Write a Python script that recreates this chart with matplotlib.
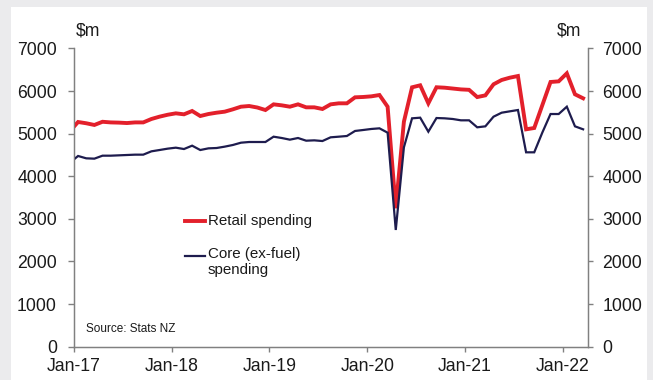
import matplotlib
matplotlib.use("Agg")
import matplotlib.pyplot as plt
from matplotlib.patches import Rectangle
import numpy as np

plt.rcParams['font.family'] = ['Liberation Sans', 'DejaVu Sans']

# Monthly values, Dec-16 .. Mar-22 ($m)
months_since_jan17 = list(range(-1, 63))
retail = [5060, 5275, 5245, 5205, 5280, 5265, 5260, 5250, 5265, 5265,
          5345, 5400, 5445, 5478, 5455, 5533, 5415, 5462, 5493, 5517,
          5572, 5634, 5650, 5615, 5556, 5689, 5666, 5634, 5689, 5619,
          5619, 5580, 5689, 5713, 5713, 5854, 5862, 5877, 5908, 5634,
          3250, 5282, 6089, 6136, 5713, 6090, 6080, 6060, 6040, 6030,
          5860, 5900, 6159, 6261, 6315, 6354, 5103, 5134, 5674, 6214,
          6229, 6417, 5925, 5831]
core = [4320, 4477, 4422, 4414, 4484, 4484, 4492, 4500, 4508, 4508,
        4586, 4617, 4649, 4672, 4640, 4719, 4617, 4656, 4664, 4696,
        4735, 4789, 4805, 4805, 4805, 4930, 4899, 4860, 4899, 4836,
        4844, 4828, 4915, 4930, 4946, 5064, 5087, 5111, 5126, 5024,
        2740, 4680, 5361, 5376, 5047, 5368, 5361, 5345, 5314, 5314,
        5150, 5173, 5399, 5493, 5525, 5556, 4563, 4563, 5030, 5462,
        5462, 5634, 5173, 5103]
tick_labels = ["Jan-17", "Jan-18", "Jan-19", "Jan-20", "Jan-21", "Jan-22"]
y_ticks = [0, 1000, 2000, 3000, 4000, 5000, 6000, 7000]
series_names = ["Retail spending", "Core (ex-fuel)\nspending"]

RED = '#e3202b'
NAVY = '#1e1c4e'
AXC = '#808080'
TXT = '#1a1a1a'

W, H = 653, 380
fig = plt.figure(figsize=(W / 100, H / 100), dpi=100)
fig.patch.set_facecolor('#ebebed')
fig.add_artist(Rectangle((11 / W, 0), 636 / W, 373 / H, transform=fig.transFigure,
                         facecolor='white', edgecolor='none', zorder=0))

L, R, B, T = 74, 588, 346.7, 48.5
ax = fig.add_axes([L / W, 1 - B / H, (R - L) / W, (B - T) / H])
ax.set_facecolor('none')

x = np.array(months_since_jan17) + 0.5  # mid-month positions
ax.plot(x, retail, color=RED, lw=2.8, solid_joinstyle='miter', zorder=3)
ax.plot(x, core, color=NAVY, lw=1.6, solid_joinstyle='miter', zorder=4)

ax.set_xlim(0, 63.1)
ax.set_ylim(0, 7000)
ax.set_xticks([12 * i for i in range(len(tick_labels))])
ax.set_xticklabels(tick_labels)
ax.set_yticks(y_ticks)
ax.set_yticklabels([str(v) for v in y_ticks])

ax.spines['top'].set_visible(False)
for s in ['left', 'right', 'bottom']:
    ax.spines[s].set_color(AXC)
    ax.spines[s].set_linewidth(1.0)

ax.tick_params(axis='y', direction='out', length=4.3, width=1, color=AXC,
               labelsize=12.7, labelcolor=TXT, pad=8)
ax.tick_params(axis='x', direction='out', length=3.5, width=1, color=AXC,
               labelsize=12.7, labelcolor=TXT, pad=4.5)

ax2 = ax.twinx()
ax2.set_ylim(0, 7000)
ax2.set_yticks(y_ticks)
ax2.set_yticklabels([str(v) for v in y_ticks])
ax2.spines['top'].set_visible(False)
for s in ['left', 'right', 'bottom']:
    ax2.spines[s].set_color(AXC)
ax2.tick_params(axis='y', direction='out', length=3.5, width=1, color=AXC,
                labelsize=12.7, labelcolor=TXT, pad=7)

fig.text(88 / W, 1 - 31 / H, '$m', ha='center', va='center', fontsize=12.7, color=TXT)
fig.text(569 / W, 1 - 31 / H, '$m', ha='center', va='center', fontsize=12.7, color=TXT)

# legend (manual)
def fx(px):
    return (px - L) / (R - L)

def fy(py):
    return (B - py) / (B - T)

ax.plot([fx(185), fx(205)], [fy(221), fy(221)], transform=ax.transAxes,
        color=RED, lw=2.8, clip_on=False)
ax.text(fx(207.5), fy(221), series_names[0], transform=ax.transAxes,
        ha='left', va='center', fontsize=10.9, color=TXT)
ax.plot([fx(185), fx(205)], [fy(256), fy(256)], transform=ax.transAxes,
        color=NAVY, lw=1.6, clip_on=False)
ax.text(fx(207.5), fy(247.5), series_names[1], transform=ax.transAxes,
        ha='left', va='top', fontsize=10.9, color=TXT, linespacing=1.15)

ax.text(fx(86), fy(329), 'Source: Stats NZ', transform=ax.transAxes,
        ha='left', va='center', fontsize=8.5, color=TXT)

fig.savefig('out.png', dpi=100, facecolor=fig.get_facecolor())
